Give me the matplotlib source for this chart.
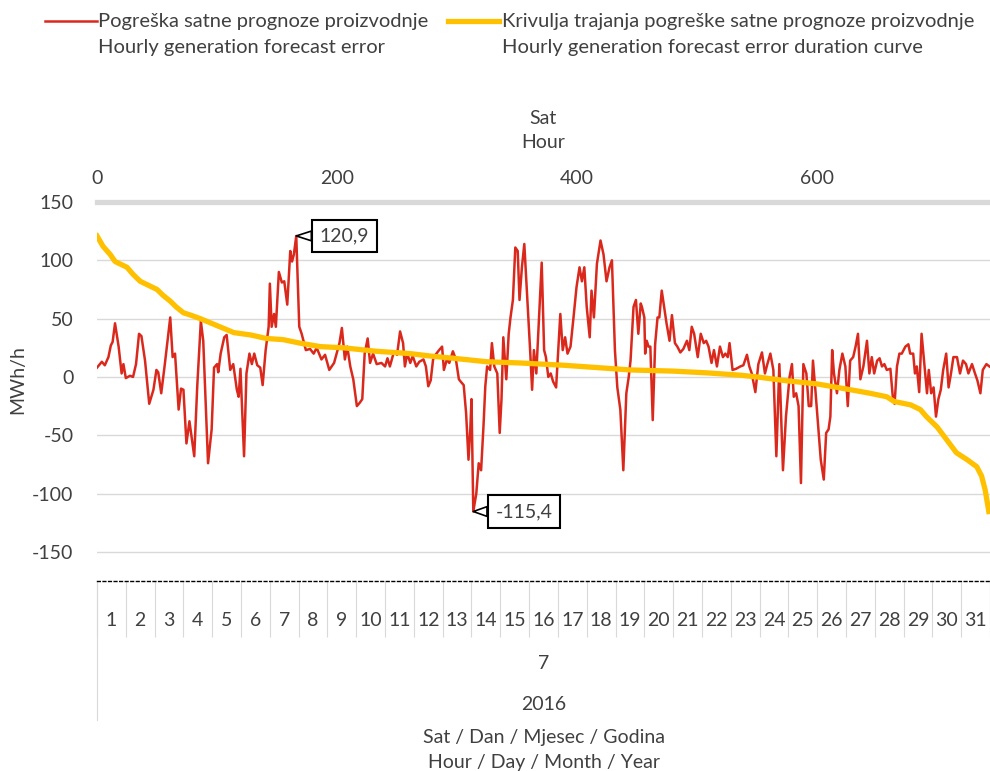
import matplotlib.pyplot as plt
import matplotlib.transforms as mtransforms
from matplotlib.lines import Line2D

plt.rcParams['font.family'] = ['Lato', 'DejaVu Sans']
plt.rcParams['font.size'] = 14

# ==================================
# DATA
# ==================================

# hourly forecast error, July 2016 (hour index, MWh/h)
red_hours = [
    0, 4, 6.5, 9.5, 11.5, 13, 15, 18, 20.5, 22, 24, 27.5, 30, 32.5, 35, 37, 40,
    43.5, 47, 49.5, 51, 53.5, 56.5, 61, 63, 65, 68, 70, 72, 74.5, 77, 81, 83.5,
    86.5, 88.5, 92.5, 95.5, 97.5, 100, 101, 103, 106, 108, 111, 113.5, 116.5,
    118, 119.5, 122.5, 124.5, 127, 129, 131, 133.5, 136, 138, 140.5, 143, 144,
    145.5, 147.5, 149, 151.5, 154, 156, 158.5, 161, 162.5, 164, 166, 168.5,
    170.5, 174, 177.5, 180.5, 183, 187, 190, 193.5, 197.5, 202, 204, 206.5,
    208.5, 211, 213.5, 216.5, 219, 221, 223, 225.5, 227.5, 230, 233, 237, 240,
    242, 244, 247.5, 250, 252.5, 255, 256.5, 258.5, 261, 263, 266, 268.5, 272,
    274, 276, 278, 280, 282, 285, 287.5, 289, 291.5, 293.5, 296.5, 299, 301.5,
    303, 305.5, 307.5, 309.5, 311, 312, 313.5, 316, 318, 320, 322, 323.5, 325,
    327.5, 329, 331, 333.5, 335.5, 337, 338.5, 341, 343, 344.5, 346.5, 348.5,
    350.5, 352, 354, 356, 358, 361, 362.5, 364, 366, 370.5, 372.5, 374, 376,
    378, 380, 382.5, 386, 388, 390, 392, 394.5, 397, 399.5, 402, 404, 406, 408,
    410.5, 412, 414, 416.5, 419.5, 422, 424.5, 427, 429, 431.5, 433.5, 436,
    438.5, 441, 443, 444.5, 447, 449, 451, 453, 454, 456, 456.7, 458, 459.5,
    461, 463, 465, 467, 468.5, 470.5, 472.5, 474.5, 477, 479, 481.5, 483.5, 486,
    488.5, 491.5, 493.5, 495.5, 497.5, 500.5, 503, 505.5, 507.5, 509.5, 512,
    514, 516.5, 519, 521.5, 523.5, 525.5, 527, 529.5, 532.5, 536, 538.5, 541.5,
    543.5, 545.5, 548.5, 551, 554, 556.5, 558.5, 561, 563.5, 566, 568.5, 571.5,
    574, 577, 579, 580.5, 582.5, 584.5, 586.5, 588.5, 591, 593, 595, 596.5,
    598.5, 601, 603, 605.5, 607.5, 609.5, 611, 612.5, 614, 616.5, 618.5, 621,
    623.5, 625.5, 627.5, 630, 632, 634, 636, 638.5, 641.5, 643.5, 645.5, 647.5,
    650, 652, 654, 656, 658, 661, 663, 664.5, 666.5, 668.5, 670.5, 673.5, 676,
    677.5, 680, 681.5, 683, 685, 687, 689, 691.5, 693, 695, 697, 699, 701, 703,
    705, 707.5, 709.5, 711.5, 713.5, 716.5, 719, 721.5, 724, 726, 729, 731.5,
    733.5, 736, 738, 741, 743.5
]
red_vals = [
    8, 13, 10, 17, 27, 30, 46, 26, 3, 11, -1, 1, 0, 11, 37, 35, 14,
    -23, -11, 6, 4, -14, 11, 51, 17, 20, -28, -10, -11, -57, -38, -68, -8,
    48, 31, -74, -45, 8, 11, 4, 20, 34, 36, 6, 11, -11,
    -17, 7, -68, 3, 20, 11, 20, 10, 8, -7, 23, 43, 80,
    43, 54, 43, 90, 81, 82, 62, 108, 99, 105, 120.9, 43,
    37, 23, 24, 20, 25, 15, 19, 6, 12, 29, 42, 15,
    26, 9, -2, -25, -22, -19, 20, 33, 12, 20, 11, 12, 9,
    16, 9, 22, 19, 39, 29, 9, 20, 12, 18, 9, 13, 15,
    9, -8, -3, 15, 19, 23, 26, 6, 15, 12, 22, 15, -2,
    -4, -7, -31, -71, -45, -19, -115.4, -100, -74, -80, -42, -8, 9,
    6, 29, 9, 3, -48, -19, 34, -2, 37, 51, 66, 111,
    108, 66, 94, 114, 77, 20, -11, 23, 3, 98, 23, 17, 0,
    3, -4, -9, 54, 23, 34, 20, 26, 51, 77, 94, 82, 94, 60,
    34, 74, 51, 97, 117, 105, 82, 94, 100, 23, -9, -28,
    -80, -14, 0, 14, 60, 66, 37, 63, 60, 51, 20, 31, 26,
    26, -37, 28, 51, 51, 74, 60, 46, 31, 53, 29, 26, 21,
    24, 31, 23, 43, 37, 17, 37, 29, 31, 26, 12,
    23, 9, 26, 17, 20, 17, 29, 6, 7, 9, 10, 19,
    9, 3, -13, 11, 21, 3, 11, 20, 6, -68, 11, -80,
    -34, 0, 11, -17, -14, -25, -91, 11, 3, -25, -25, 14,
    -11, -45, -71, -88, -48, -45, -34, 23, 3, -14, 6, 20,
    9, -25, 14, 17, 26, 37, -2, 9, 31, 3, 17, 3,
    14, 16, 9, 11, 6, 7, -17, -23, 9, 20, 20, 26, 28,
    20, 20, 3, 9, -13, 37, 14, -14, 6, -14, -9, -34, -19, -11,
    6, 20, -9, 3, 17, 17, 3, 14, 11, 3, 11, 3,
    -3, -14, 6, 11, 9
]

# duration curve of the forecast error (hour rank, MWh/h)
dur_hours = [
    0, 5, 11, 15, 19, 25, 30, 36, 44, 50, 55, 61, 66, 72, 78, 86, 100, 114,
    128, 141, 155, 169, 186, 205, 233, 261, 277, 297, 325, 352, 389, 417, 444,
    480, 508, 536, 550, 572, 600, 628, 644, 658, 664, 678, 686, 691, 700, 708,
    716, 725, 733, 737, 740, 743
]
dur_vals = [
    120.9, 112, 105, 99, 97, 94, 88, 82, 78, 75, 70, 65, 60, 55, 53, 50, 44, 38,
    36, 33, 32, 29, 26, 25, 22, 20, 18, 16, 13, 12, 10, 8, 6,
    5, 3.5, 1.5, 0, -3, -6, -11, -14, -17, -21, -24, -28, -34, -43, -54,
    -65, -71, -77, -85, -97, -115.4
]

days = list(range(1, 32))
month_label = "7"
year_label = "2016"
top_ticks = [0, 200, 400, 600]
y_ticks = [-150, -100, -50, 0, 50, 100, 150]

RED = "#DA291C"
GOLD = "#FFC000"
GRID = "#D9D9D9"
TXT = "#404040"

# ==================================
# FIGURE
# ==================================

fig = plt.figure(figsize=(9.9, 7.71), dpi=100)
ax = fig.add_axes([0.098, 0.2464, 0.902, 0.4916])

ax.plot(red_hours, red_vals, color=RED, lw=1.8, zorder=3)

ax.set_xlim(0, 744)
ax.set_ylim(-175, 150)
ax.set_yticks(y_ticks)
ax.set_yticklabels([str(v) for v in y_ticks], color=TXT)
ax.tick_params(axis="y", length=0, pad=17)

ax.grid(axis="y", color=GRID, lw=1)
ax.set_axisbelow(True)

for s in ["left", "right", "top"]:
    ax.spines[s].set_visible(False)
ax.spines["bottom"].set_color("black")
ax.spines["bottom"].set_linewidth(1)
ax.spines["bottom"].set_linestyle((0, (2, 2)))

# category axis: days
centers = [(d - 0.5) * 24 for d in days]
ax.set_xticks(centers)
ax.set_xticklabels([str(d) for d in days], color=TXT)
ax.set_xticks([d * 24 for d in range(0, 32)], minor=True)
ax.tick_params(axis="x", which="major", length=0, pad=22)
ax.tick_params(axis="x", which="minor", length=40, width=0.8, color=GRID)

trans = mtransforms.blended_transform_factory(ax.transData, ax.transAxes)
ax.add_line(Line2D([0, 0], [0, -0.367], transform=trans, color=GRID,
                   lw=0.8, clip_on=False))

ax.text(0.5, -0.2164, month_label, transform=ax.transAxes, ha="center",
        va="center", color=TXT)
ax.text(0.5, -0.327, year_label, transform=ax.transAxes, ha="center",
        va="center", color=TXT)
ax.text(0.5, -0.4116, "Sat / Dan / Mjesec / Godina", transform=ax.transAxes,
        ha="center", va="center", color=TXT)
ax.text(0.5, -0.4776, "Hour / Day / Month / Year", transform=ax.transAxes,
        ha="center", va="center", color=TXT)

fig.text(18 / 990, 1 - 380 / 771, "MWh/h", rotation=90, ha="center",
         va="center", color=TXT)

# secondary (top) axis with the duration curve
ax2 = ax.twiny()
ax2.plot(dur_hours, dur_vals, color=GOLD, lw=3.8, zorder=2)
ax2.set_xlim(0, 744)
ax2.set_xticks(top_ticks)
ax2.set_xticklabels([str(t) for t in top_ticks], color=TXT)
ax2.tick_params(axis="x", length=0, pad=11)
for s in ["left", "right", "bottom"]:
    ax2.spines[s].set_visible(False)
ax2.spines["top"].set_color(GRID)
ax2.spines["top"].set_linewidth(3.8)

fig.text(0.5487, 1 - 118 / 771, "Sat", ha="center", va="center", color=TXT)
fig.text(0.5487, 1 - 143 / 771, "Hour", ha="center", va="center", color=TXT)

# callouts
box = dict(boxstyle="square,pad=0.4", fc="white", ec="black", lw=1.5)
wedge = dict(arrowstyle="wedge,tail_width=0.5,shrink_factor=0.5",
             fc="white", ec="black", lw=1.2, shrinkA=0, shrinkB=0)
ax.annotate("120,9", xy=(166, 120.9), xytext=(17, 0),
            textcoords="offset points", ha="left", va="center", color=TXT,
            bbox=box, arrowprops=wedge, zorder=5)
ax.annotate("-115,4", xy=(313.5, -115.4), xytext=(16, 0),
            textcoords="offset points", ha="left", va="center", color=TXT,
            bbox=box, arrowprops=wedge, zorder=5)

# legend
ly1 = 1 - 21 / 771
ly2 = 1 - 48 / 771
fig.add_artist(Line2D([45 / 990, 97 / 990], [ly1, ly1], color=RED, lw=1.8,
                      transform=fig.transFigure))
fig.add_artist(Line2D([448 / 990, 499 / 990], [ly1, ly1], color=GOLD, lw=3.8,
                      transform=fig.transFigure))
fig.text(98 / 990, ly1, "Pogreška satne prognoze proizvodnje", va="center",
         color=TXT, fontsize=14.5)
fig.text(98 / 990, ly2, "Hourly generation forecast error", va="center",
         color=TXT, fontsize=14.5)
fig.text(502 / 990, ly1, "Krivulja trajanja pogreške satne prognoze proizvodnje",
         va="center", color=TXT, fontsize=14.5)
fig.text(502 / 990, ly2, "Hourly generation forecast error duration curve",
         va="center", color=TXT, fontsize=14.5)

fig.savefig("out.png", dpi=100)
